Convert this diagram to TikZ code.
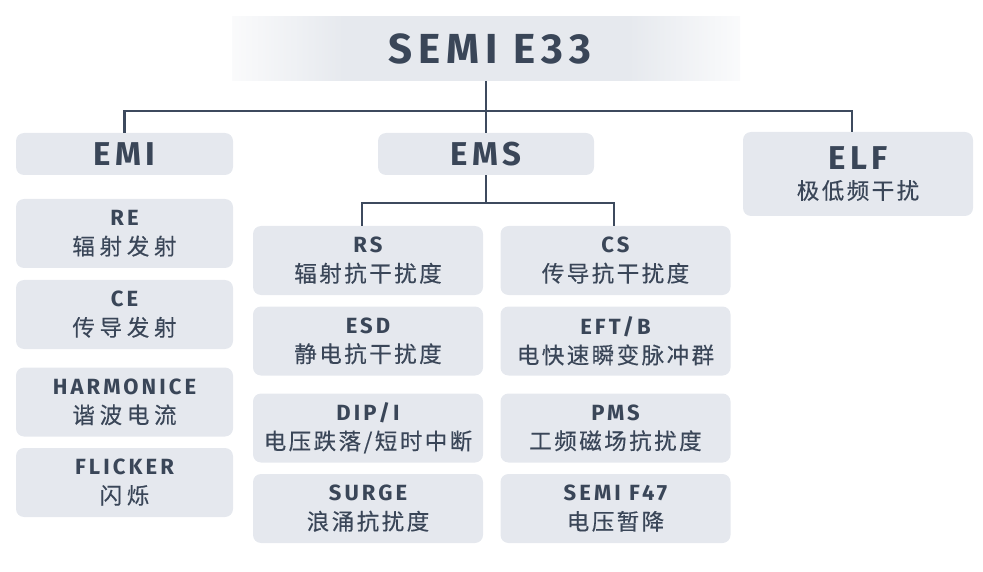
\documentclass[tikz,border=0pt]{standalone}
\usepackage{fontspec}
\setmainfont{Fira Sans}
\newfontfamily\enfont{Fira Sans}[LetterSpace=14]
\newfontfamily\zhfont{Noto Sans CJK SC}[LetterSpace=11, FakeBold=0.3]
\newfontfamily\zhwide{Noto Sans CJK SC}[LetterSpace=21, FakeBold=0.3]
\usetikzlibrary{positioning, calc}

\definecolor{inkgray}{HTML}{3A4658}
\definecolor{linegray}{HTML}{3D4A5E}
\definecolor{boxgray}{HTML}{E5E8EE}
\definecolor{bandgray}{HTML}{E6E9EE}
\pgfdeclarehorizontalshading{bandfade}{100bp}{color(0bp)=(bandgray!20); color(25bp)=(bandgray!20); color(36bp)=(bandgray); color(64bp)=(bandgray); color(75bp)=(bandgray!20); color(100bp)=(bandgray!20)}

\newcommand{\en}[2][22]{{\enfont\bfseries\fontsize{#1}{29}\selectfont #2}}

\begin{document}
\begin{tikzpicture}[
    x=1pt, y=-1pt,
    box/.style={rectangle, fill=boxgray, rounded corners=8pt, inner sep=0pt, text=inkgray, align=center},
    group/.style={box, minimum width=217pt, minimum height=42pt},
    item/.style={box, minimum width=230pt, minimum height=69pt, font=\zhfont\fontsize{22.5}{29}\selectfont},
    itemL/.style={item, minimum width=217pt, font=\zhwide\fontsize{22.5}{29}\selectfont},
    link/.style={draw=linegray, line width=2.2pt}
]
    \useasboundingbox (0,0) rectangle (983,572);

    % Title band
    \node [rectangle, shading=bandfade, minimum width=508pt, minimum height=64pt, inner sep=0pt,
           text=inkgray] (title) at (486,48.8) {\hspace*{8pt}\raisebox{-1.5pt}{\en[42]{SEMI E33}}};

    % Main groups
    \node [group] (emi) at (124.5,154) {\en[33]{EMI}};
    \node [group, minimum width=216pt] (ems) at (486,154) {\en[33]{EMS}};
    \node [item, minimum width=230pt, minimum height=84pt] (elf) at (858,174) {\en[33]{ELF}\\极低频干扰};

    % EMI items
    \node [itemL] (re)   at (124.5,233.5) {\en{RE}\\辐射发射};
    \node [itemL] (ce)   at (124.5,314.5) {\en{CE}\\传导发射};
    \node [itemL] (harm) at (124.5,402)   {\en{HARMONICE}\\谐波电流};
    \node [itemL] (flk)  at (124.5,482.5) {\en{FLICKER}\\闪烁};

    % EMS items, left column
    \node [item] (rs)    at (368,260.5) {\en{RS}\\辐射抗干扰度};
    \node [item] (esd)   at (368,341)   {\en{ESD}\\静电抗干扰度};
    \node [item] (dip)   at (368,428)   {\en{DIP/I}\\电压跌落/短时中断};
    \node [item] (surge) at (368,508.5) {\en{SURGE}\\浪涌抗扰度};

    % EMS items, right column
    \node [item] (cs)    at (615.5,260.5) {\en{CS}\\传导抗干扰度};
    \node [item] (eft)   at (615.5,341)   {\en{EFT/B}\\电快速瞬变脉冲群};
    \node [item] (pms)   at (615.5,428)   {\en{PMS}\\工频磁场抗扰度};
    \node [item] (f47)   at (615.5,508.5) {\en{SEMI F47}\\电压暂降};

    % Connections
    \coordinate (hub) at (486,110.7);
    \coordinate (emshub) at (486,203);
    \draw [link] (title.south) -- (ems.north);
    \draw [link] (emi.north) |- (hub) -| ([xshift=-6pt]elf.north);
    \draw [link] (ems.south) -- (emshub);
    \draw [link] ([xshift=-6pt]rs.north) |- (emshub) -| ([xshift=-1.5pt]cs.north);

\end{tikzpicture}
\end{document}
